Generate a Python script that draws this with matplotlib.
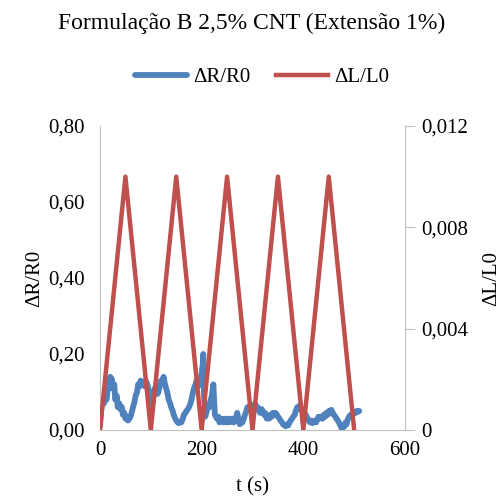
import matplotlib
matplotlib.use("Agg")
import matplotlib.pyplot as plt
from matplotlib.ticker import FuncFormatter, MultipleLocator

plt.rcParams['font.family'] = ['Liberation Serif', 'DejaVu Serif']

title = "Formulação B 2,5% CNT (Extensão 1%)"

# ΔR/R0 (left axis) as (t, value)
dr_points = [
    (0, 0.01), (2, 0.05), (3, 0.06), (5, 0.075), (8, 0.07), (10, 0.085),
    (13, 0.08), (15, 0.105), (18, 0.11), (20, 0.14), (22, 0.13), (23, 0.135),
    (25, 0.11), (28, 0.12), (30, 0.08), (33, 0.09), (35, 0.06), (38, 0.07),
    (40, 0.055), (43, 0.06), (45, 0.04), (48, 0.045), (50, 0.03), (53, 0.035),
    (55, 0.025), (58, 0.03), (60, 0.035), (63, 0.05), (65, 0.06), (68, 0.075),
    (70, 0.09), (73, 0.10), (75, 0.12), (78, 0.115), (80, 0.13), (83, 0.12),
    (85, 0.125), (88, 0.115), (90, 0.13), (93, 0.12), (95, 0.11), (98, 0.09),
    (100, 0.07), (103, 0.085), (105, 0.09), (108, 0.11), (110, 0.11),
    (113, 0.095), (115, 0.10), (118, 0.12), (120, 0.13), (123, 0.125),
    (125, 0.14), (128, 0.12), (130, 0.11), (133, 0.095), (135, 0.08),
    (138, 0.07), (140, 0.06), (143, 0.05), (145, 0.04), (148, 0.03),
    (150, 0.025), (153, 0.02), (155, 0.018), (158, 0.022), (160, 0.02),
    (163, 0.03), (165, 0.04), (168, 0.045), (170, 0.05), (173, 0.055),
    (175, 0.06), (178, 0.07), (180, 0.08), (183, 0.10), (185, 0.11),
    (188, 0.12), (190, 0.13), (193, 0.115), (195, 0.12), (198, 0.135),
    (200, 0.15), (202, 0.17), (203, 0.20), (204, 0.12), (205, 0.08),
    (207, 0.035), (210, 0.05), (213, 0.065), (215, 0.06), (218, 0.08),
    (220, 0.09), (222, 0.11), (223, 0.12), (224, 0.09), (226, 0.04),
    (230, 0.03), (233, 0.035), (235, 0.02), (238, 0.03), (240, 0.025),
    (243, 0.02), (245, 0.03), (248, 0.025), (250, 0.02), (253, 0.03),
    (255, 0.02), (258, 0.025), (260, 0.03), (263, 0.02), (265, 0.025),
    (268, 0.035), (270, 0.045), (273, 0.025), (275, 0.015), (278, 0.02),
    (280, 0.02), (283, 0.03), (285, 0.04), (288, 0.05), (290, 0.06),
    (293, 0.055), (295, 0.065), (298, 0.06), (300, 0.05), (303, 0.06),
    (305, 0.07), (308, 0.055), (310, 0.06), (313, 0.05), (315, 0.045),
    (318, 0.055), (320, 0.05), (323, 0.04), (325, 0.045), (328, 0.03),
    (330, 0.035), (333, 0.03), (335, 0.04), (338, 0.035), (340, 0.045),
    (343, 0.04), (345, 0.045), (348, 0.04), (350, 0.035), (353, 0.03),
    (355, 0.025), (358, 0.02), (360, 0.015), (363, 0.012), (365, 0.01),
    (368, 0.015), (370, 0.012), (373, 0.02), (375, 0.025), (378, 0.03),
    (380, 0.035), (383, 0.04), (385, 0.05), (388, 0.06), (390, 0.055),
    (393, 0.065), (395, 0.06), (398, 0.05), (400, 0.045), (403, 0.035),
    (405, 0.04), (408, 0.03), (410, 0.025), (413, 0.02), (415, 0.025),
    (418, 0.018), (420, 0.022), (423, 0.025), (425, 0.02), (428, 0.03),
    (430, 0.035), (433, 0.03), (435, 0.035), (438, 0.03), (440, 0.04),
    (443, 0.035), (445, 0.045), (448, 0.04), (450, 0.05), (453, 0.045),
    (455, 0.053), (458, 0.045), (460, 0.04), (463, 0.035), (465, 0.03),
    (468, 0.025), (470, 0.02), (473, 0.012), (475, 0.005), (478, 0.01),
    (480, 0.008), (483, 0.02), (485, 0.015), (488, 0.03), (490, 0.035),
    (493, 0.04), (495, 0.035), (498, 0.045), (500, 0.048), (503, 0.045),
    (505, 0.05), (508, 0.048), (510, 0.05),
]
t_r = [p[0] for p in dr_points]
dr = [p[1] for p in dr_points]

# ΔL/L0 (right axis)
t_l = [0, 50, 100, 150, 200, 250, 300, 350, 400, 450, 500]
dl = [0, 0.01, 0, 0.01, 0, 0.01, 0, 0.01, 0, 0.01, 0]

blue = '#4F81BD'
red = '#C0504D'
grey = '#BFBFBF'
fs = 15

fig = plt.figure(figsize=(5.04, 4.97), dpi=100)
ax = fig.add_axes([100 / 504, 67 / 497, 305 / 504, 304 / 497])
ax2 = ax.twinx()

l1, = ax.plot(t_r, dr, color=blue, lw=4.2, solid_capstyle='round')
l2, = ax2.plot(t_l, dl, color=red, lw=3.2)

ax.set_xlim(0, 600)
ax.set_ylim(0, 0.8)
ax2.set_ylim(0, 0.012)
ax.xaxis.set_major_locator(MultipleLocator(200))
ax.yaxis.set_major_locator(MultipleLocator(0.2))
ax2.yaxis.set_major_locator(MultipleLocator(0.004))

ax.yaxis.set_major_formatter(FuncFormatter(lambda v, p: f"{v:.2f}".replace('.', ',')))
ax2.yaxis.set_major_formatter(FuncFormatter(
    lambda v, p: "0" if v == 0 else f"{v:.3f}".replace('.', ',')))

for a in (ax, ax2):
    for s in a.spines.values():
        s.set_color(grey)
    a.spines['top'].set_visible(False)
ax.spines['right'].set_visible(False)
ax2.spines['left'].set_visible(False)
ax2.spines['bottom'].set_visible(False)

ax.tick_params(axis='y', length=0, labelsize=fs, pad=11)
ax.tick_params(axis='x', length=0, labelsize=fs, pad=8)
ax2.tick_params(axis='y', length=7, color=grey, labelsize=fs, pad=5)

ax.set_xlabel("t (s)", fontsize=fs, labelpad=12)
ax.set_ylabel("ΔR/R0", fontsize=fs, labelpad=3)
ax2.set_ylabel("ΔL/L0", fontsize=fs, rotation=90, labelpad=10)

fig.suptitle(title, fontsize=17, y=0.975)
fig.legend([l1, l2], ["ΔR/R0", "ΔL/L0"], loc='center', bbox_to_anchor=(0.52, 0.845),
           ncol=2, frameon=False, fontsize=fs, handlelength=2.5,
           handletextpad=0.3, columnspacing=1.2)

fig.savefig("out.png", dpi=100)
